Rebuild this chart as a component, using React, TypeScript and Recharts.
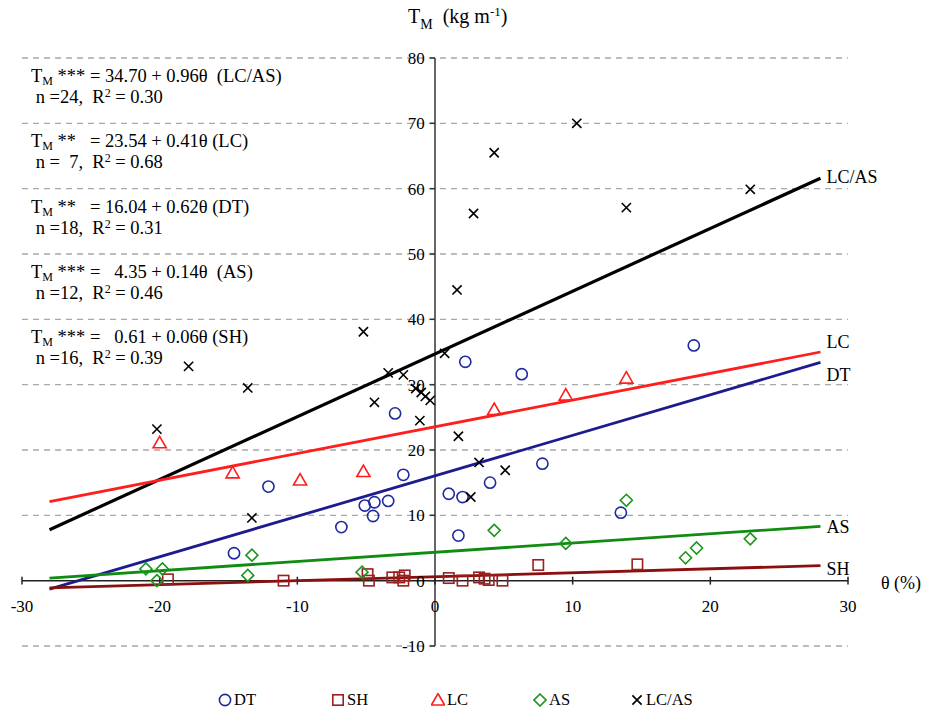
import React from 'react';
import { ScatterChart, Scatter, XAxis, YAxis, ReferenceLine } from 'recharts';

const FONT = '"Liberation Serif", "Times New Roman", serif';

// ---- data (θ %, T_M kg m-1) ----
const dtPoints: [number, number][] = [
  [-14.6, 4.2], [-12.1, 14.4], [-6.8, 8.2], [-5.1, 11.5], [-4.5, 9.9], [-4.4, 12.0],
  [-3.4, 12.2], [-2.9, 25.6], [-2.3, 16.2], [1.0, 13.3], [1.7, 6.9], [2.0, 12.8],
  [2.2, 33.5], [4.0, 15.0], [6.3, 31.6], [7.8, 17.9], [13.5, 10.4], [18.8, 36.0],
];
const shPoints: [number, number][] = [
  [-19.4, 0.2], [-11.0, 0.0], [-4.9, 1.0], [-4.8, 0.0], [-3.1, 0.5], [-2.6, 0.5],
  [-2.2, 0.8], [-2.3, 0.0], [1.0, 0.4], [2.0, 0.0], [3.2, 0.5], [3.6, 0.3],
  [3.9, 0.1], [4.9, 0.0], [7.5, 2.4], [14.7, 2.5],
];
const lcPoints: [number, number][] = [
  [-20.0, 21.1], [-14.7, 16.5], [-9.8, 15.4], [-5.2, 16.7], [4.3, 26.2], [9.5, 28.4], [13.9, 31.0],
];
const asPoints: [number, number][] = [
  [-21.0, 1.8], [-19.8, 1.8], [-20.2, 0.0], [-13.6, 0.8], [-13.3, 3.9], [-5.3, 1.3],
  [4.3, 7.7], [9.5, 5.7], [13.9, 12.3], [18.2, 3.5], [19.0, 5.0], [22.9, 6.4],
];
const lcasPoints: [number, number][] = [
  [-20.2, 23.2], [-17.9, 32.8], [-13.6, 29.5], [-13.3, 9.6], [-5.2, 38.1], [-4.4, 27.3],
  [-3.4, 31.8], [-2.3, 31.5], [-1.4, 29.4], [-1.0, 28.8], [-0.7, 28.2], [-0.35, 27.6],
  [-1.1, 24.5], [0.7, 34.8], [1.7, 22.1], [3.2, 18.1], [2.6, 12.8], [5.1, 16.9],
  [1.6, 44.5], [2.8, 56.2], [4.3, 65.5], [10.3, 70.0], [13.9, 57.1], [22.9, 59.9],
];

// fitted lines (end points)
const lcasFit: [number, number][] = [[-28, 7.8], [28, 61.6]];
const lcFit: [number, number][] = [[-28, 12.1], [28, 35.0]];
const dtFit: [number, number][] = [[-28, -1.3], [28, 33.4]];
const asFit: [number, number][] = [[-28, 0.4], [28, 8.3]];
const shFit: [number, number][] = [[-28, -1.1], [28, 2.3]];

// line-end labels: [θ, T, text]
const fitLabels: [number, number, string][] = [
  [28, 61.8, 'LC/AS'], [28, 36.6, 'LC'], [28, 31.6, 'DT'], [28, 8.3, 'AS'], [28, 1.9, 'SH'],
];

const xTicks = [-30, -20, -10, 0, 10, 20, 30];
const yTicks = [-10, 0, 10, 20, 30, 40, 50, 60, 70, 80];
const gridValues = [-10, 10, 20, 30, 40, 50, 60, 70, 80];

const seriesNames = ['DT', 'SH', 'LC', 'AS', 'LC/AS'];

const equations = [
  { stars: '***', rest: ' = 34.70 + 0.96θ  (LC/AS)', n: 'n =24,  R', r2: ' = 0.30' },
  { stars: '**', rest: '   = 23.54 + 0.41θ (LC)', n: 'n =  7,  R', r2: ' = 0.68' },
  { stars: '**', rest: '   = 16.04 + 0.62θ (DT)', n: 'n =18,  R', r2: ' = 0.31' },
  { stars: '***', rest: ' =   4.35 + 0.14θ  (AS)', n: 'n =12,  R', r2: ' = 0.46' },
  { stars: '***', rest: ' =   0.61 + 0.06θ (SH)', n: 'n =16,  R', r2: ' = 0.39' },
];

const COLORS = {
  DT: '#1f2a9e',
  DTline: '#1c1c8e',
  SH: '#9a2020',
  SHline: '#8a0f0f',
  LC: '#ff1e1e',
  AS: '#1c961c',
  ASline: '#108c10',
  LCAS: '#000000',
};

const toXY = (arr: [number, number][]) => arr.map(([x, y]) => ({ x, y }));

type Kind = 'circle' | 'square' | 'triangle' | 'diamond' | 'x';

const makeShape = (kind: Kind, color: string) => (props: any) => {
  const { cx, cy } = props;
  if (cx == null || cy == null) return <g />;
  const sw = 1.6;
  switch (kind) {
    case 'circle':
      return <circle cx={cx} cy={cy} r={5.6} fill="none" stroke={color} strokeWidth={sw} />;
    case 'square':
      return <rect x={cx - 5.2} y={cy - 5.2} width={10.4} height={10.4} fill="none" stroke={color} strokeWidth={sw} />;
    case 'triangle':
      return (
        <polygon
          points={`${cx},${cy - 6.5} ${cx + 6.6},${cy + 5} ${cx - 6.6},${cy + 5}`}
          fill="none" stroke={color} strokeWidth={sw}
        />
      );
    case 'diamond':
      return (
        <polygon
          points={`${cx},${cy - 6} ${cx + 6},${cy} ${cx},${cy + 6} ${cx - 6},${cy}`}
          fill="none" stroke={color} strokeWidth={sw}
        />
      );
    case 'x':
    default:
      return (
        <path
          d={`M${cx - 4.6},${cy - 4.6}L${cx + 4.6},${cy + 4.6}M${cx + 4.6},${cy - 4.6}L${cx - 4.6},${cy + 4.6}`}
          stroke={color} strokeWidth={sw} fill="none"
        />
      );
  }
};

const noShape = () => <g />;

const LegendIcon = ({ kind, color }: { kind: Kind; color: string }) => (
  <svg width={14} height={14} style={{ marginRight: 2 }}>
    {makeShape(kind, color)({ cx: 7, cy: 7 })}
  </svg>
);

const legendKinds: Kind[] = ['circle', 'square', 'triangle', 'diamond', 'x'];
const legendColors = [COLORS.DT, COLORS.SH, COLORS.LC, COLORS.AS, COLORS.LCAS];
const legendX = [218, 331, 431, 533, 630];

export default function App() {
  const tickStyle = { fill: '#000', fontSize: 17, fontFamily: FONT };
  const subStyle = { fontSize: 12, verticalAlign: '-3px', lineHeight: 0 } as const;
  const supStyle = { fontSize: 12, verticalAlign: '6px', lineHeight: 0 } as const;
  return (
    <div
      style={{
        position: 'absolute', left: 0, top: 0, width: 930, height: 711,
        background: '#fff', fontFamily: FONT, color: '#000',
      }}
    >
      <style>{`svg text { font-family: "Liberation Serif", "Times New Roman", serif; }`}</style>
      <ScatterChart
        width={930}
        height={711}
        margin={{ top: 58, right: 82, bottom: 65, left: 22 }}
      >
        <XAxis type="number" dataKey="x" domain={[-30, 30]} ticks={xTicks} hide />
        <YAxis type="number" dataKey="y" domain={[-10, 80]} ticks={yTicks} hide />

        {gridValues.map((v) => (
          <ReferenceLine key={'g' + v} y={v} stroke="#a8a8a8" strokeWidth={1.3} strokeDasharray="6 5" />
        ))}

        <ReferenceLine x={0} stroke="#333" strokeWidth={1.5} />
        <ReferenceLine y={0} stroke="#222" strokeWidth={1.5} />

        {yTicks.map((v) => (
          <ReferenceLine
            key={'yt' + v}
            segment={[{ x: -0.38, y: v }, { x: 0, y: v }]}
            stroke="#333"
            strokeWidth={1.5}
            label={{ value: String(v), position: 'left', offset: 5, ...tickStyle }}
          />
        ))}
        {xTicks.map((v) => (
          <ReferenceLine
            key={'xt' + v}
            segment={[{ x: v, y: -0.6 }, { x: v, y: 0.6 }]}
            stroke="#222"
            strokeWidth={1.5}
            label={{ value: String(v), position: 'bottom', offset: 15, ...tickStyle }}
          />
        ))}

        <Scatter name="LC/AS fit" data={toXY(lcasFit)} line={{ stroke: COLORS.LCAS, strokeWidth: 3.2 }} shape={noShape} legendType="none" isAnimationActive={false} />
        <Scatter name="LC fit" data={toXY(lcFit)} line={{ stroke: COLORS.LC, strokeWidth: 2.8 }} shape={noShape} legendType="none" isAnimationActive={false} />
        <Scatter name="DT fit" data={toXY(dtFit)} line={{ stroke: COLORS.DTline, strokeWidth: 2.8 }} shape={noShape} legendType="none" isAnimationActive={false} />
        <Scatter name="AS fit" data={toXY(asFit)} line={{ stroke: COLORS.ASline, strokeWidth: 2.8 }} shape={noShape} legendType="none" isAnimationActive={false} />
        <Scatter name="SH fit" data={toXY(shFit)} line={{ stroke: COLORS.SHline, strokeWidth: 2.8 }} shape={noShape} legendType="none" isAnimationActive={false} />

        <Scatter name={seriesNames[0]} data={toXY(dtPoints)} shape={makeShape('circle', COLORS.DT)} isAnimationActive={false} />
        <Scatter name={seriesNames[1]} data={toXY(shPoints)} shape={makeShape('square', COLORS.SH)} isAnimationActive={false} />
        <Scatter name={seriesNames[2]} data={toXY(lcPoints)} shape={makeShape('triangle', COLORS.LC)} isAnimationActive={false} />
        <Scatter name={seriesNames[3]} data={toXY(asPoints)} shape={makeShape('diamond', COLORS.AS)} isAnimationActive={false} />
        <Scatter name={seriesNames[4]} data={toXY(lcasPoints)} shape={makeShape('x', COLORS.LCAS)} isAnimationActive={false} />

        {fitLabels.map(([x, y, t]) => (
          <ReferenceLine
            key={'fl' + t}
            segment={[{ x, y }, { x: x + 0.01, y }]}
            stroke="none"
            label={{ value: t, position: 'right', offset: 6, fill: '#000', fontSize: 18, fontFamily: FONT }}
          />
        ))}
      </ScatterChart>

      {/* axis titles */}
      <div style={{ position: 'absolute', left: 408, top: 4, fontSize: 20, whiteSpace: 'pre', lineHeight: '24px' }}>
        T<sub style={{ fontSize: 14, verticalAlign: '-6px', lineHeight: 0 }}>M</sub>{'  (kg m'}<sup style={{ fontSize: 13, verticalAlign: '7px', lineHeight: 0 }}>-1</sup>{')'}
      </div>
      <div style={{ position: 'absolute', left: 881, top: 572, fontSize: 18, whiteSpace: 'pre', lineHeight: '22px' }}>
        θ (%)
      </div>

      {/* regression equations */}
      {equations.map((e, i) => (
        <div
          key={'eq' + i}
          style={{ position: 'absolute', left: 31, top: 66 + i * 65.3, fontSize: 18.5, whiteSpace: 'pre', lineHeight: '21px' }}
        >
          <div>
            T<sub style={subStyle}>M</sub>{' ' + e.stars + e.rest}
          </div>
          <div>
            {' ' + e.n}<sup style={supStyle}>2</sup>{e.r2}
          </div>
        </div>
      ))}

      {/* legend */}
      {seriesNames.map((name, i) => (
        <div
          key={'lg' + name}
          style={{
            position: 'absolute', left: legendX[i], top: 690, fontSize: 16.5, whiteSpace: 'pre',
            display: 'flex', alignItems: 'center', lineHeight: '20px',
          }}
        >
          <LegendIcon kind={legendKinds[i]} color={legendColors[i]} />
          {name}
        </div>
      ))}
    </div>
  );
}
